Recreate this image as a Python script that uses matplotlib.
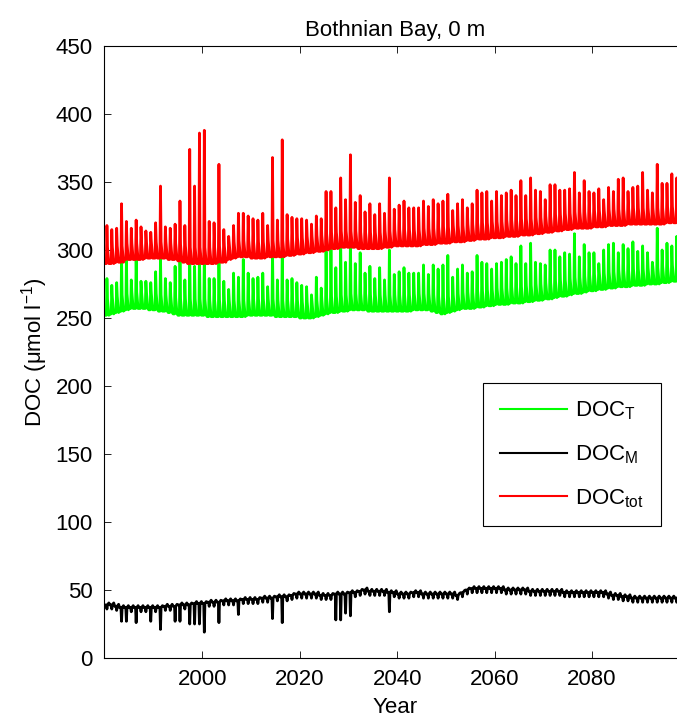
import matplotlib
matplotlib.use('Agg')
import matplotlib.pyplot as plt
import numpy as np

plt.rcParams['font.family'] = ['Liberation Sans', 'DejaVu Sans']
plt.rcParams['mathtext.fontset'] = 'custom'
plt.rcParams['mathtext.rm'] = 'Liberation Sans'
plt.rcParams['mathtext.it'] = 'Liberation Sans:italic'
plt.rcParams['mathtext.bf'] = 'Liberation Sans:bold'

# ---------------- data ----------------
years = np.arange(1980, 2098)

red_trough = [
    290, 290, 291, 291, 293, 293, 293, 293, 294, 294,
    294, 294, 294, 293, 293, 292, 291, 290, 290, 290,
    290, 290, 290, 291, 291, 293, 294, 295, 295, 295,
    294, 294, 294, 295, 295, 295, 295, 296, 296, 297,
    297, 298, 298, 299, 299, 300, 301, 301, 302, 302,
    302, 302, 301, 301, 301, 301, 301, 302, 302, 303,
    303, 303, 303, 303, 303, 304, 304, 304, 305, 305,
    305, 306, 306, 306, 307, 307, 308, 308, 308, 309,
    309, 309, 310, 310, 310, 311, 311, 311, 312, 312,
    313, 313, 314, 314, 315, 315, 316, 316, 316, 316,
    317, 317, 317, 318, 318, 318, 318, 319, 319, 319,
    319, 319, 319, 319, 319, 320, 320, 320]

red_peak = [
    318, 315, 316, 334, 321, 316, 322, 317, 314, 313,
    320, 347, 317, 316, 319, 336, 318, 374, 347, 386,
    388, 321, 320, 363, 315, 310, 318, 327, 327, 325,
    323, 322, 327, 318, 368, 322, 381, 326, 324, 323,
    323, 322, 319, 325, 323, 343, 343, 331, 353, 337,
    370, 335, 340, 328, 334, 326, 334, 327, 353, 330,
    333, 336, 331, 331, 331, 336, 332, 337, 334, 336,
    341, 329, 334, 337, 331, 334, 344, 342, 343, 336,
    343, 340, 342, 344, 340, 351, 340, 353, 344, 343,
    337, 348, 348, 344, 344, 345, 357, 342, 351, 343,
    342, 345, 337, 346, 343, 352, 353, 343, 346, 347,
    357, 344, 342, 363, 349, 349, 356, 353]

green_trough = [
    252, 253, 254, 255, 256, 257, 257, 257, 257, 256,
    256, 255, 255, 254, 253, 252, 252, 252, 252, 252,
    252, 251, 251, 251, 251, 251, 251, 251, 251, 252,
    252, 252, 252, 252, 252, 251, 251, 251, 251, 251,
    250, 250, 250, 251, 252, 253, 254, 254, 255, 255,
    256, 256, 256, 256, 255, 255, 255, 255, 255, 255,
    255, 255, 255, 256, 256, 256, 256, 255, 254, 253,
    254, 255, 256, 257, 257, 257, 258, 258, 259, 259,
    260, 260, 260, 261, 261, 261, 262, 262, 263, 263,
    264, 264, 265, 266, 266, 267, 268, 268, 269, 270,
    270, 271, 271, 272, 272, 273, 273, 273, 274, 274,
    274, 275, 275, 275, 276, 276, 277, 277]

green_peak = [
    279, 274, 276, 295, 293, 278, 295, 277, 277, 276,
    284, 295, 279, 276, 288, 295, 278, 295, 288, 298,
    298, 279, 279, 294, 277, 271, 283, 280, 293, 283,
    279, 280, 283, 273, 300, 278, 302, 278, 279, 276,
    274, 273, 267, 280, 272, 299, 300, 287, 304, 291,
    309, 290, 298, 283, 288, 279, 287, 278, 300, 282,
    284, 287, 283, 283, 283, 289, 282, 289, 286, 289,
    296, 280, 286, 289, 283, 284, 296, 291, 290, 286,
    290, 291, 293, 295, 290, 303, 290, 305, 291, 290,
    289, 300, 300, 295, 298, 297, 312, 295, 304, 298,
    298, 290, 300, 304, 305, 298, 304, 301, 306, 299,
    303, 298, 291, 316, 300, 305, 303, 310]

black_base = [
    39, 39, 38, 37, 37, 37, 37, 37, 37, 37,
    37, 37, 38, 38, 38, 39, 39, 39, 40, 40,
    40, 41, 41, 41, 42, 42, 42, 42, 43, 43,
    43, 43, 44, 44, 44, 45, 45, 45, 46, 47,
    47, 47, 47, 47, 46, 46, 46, 47, 47, 47,
    48, 48, 49, 50, 49, 49, 49, 49, 48, 48,
    47, 47, 47, 48, 48, 47, 47, 47, 47, 47,
    47, 47, 46, 48, 50, 51, 51, 51, 51, 51,
    51, 51, 50, 50, 50, 50, 50, 49, 49, 49,
    49, 49, 49, 49, 48, 48, 48, 48, 48, 48,
    48, 48, 48, 47, 46, 46, 45, 45, 44, 44,
    44, 44, 44, 44, 44, 44, 44, 44]

black_dip_years = [1983, 1984, 1986, 1989, 1991, 1994, 1995, 1997, 1998, 1999,
                   2000, 2003, 2007, 2014, 2016, 2027, 2028, 2029, 2030, 2038]
black_dip_values = [27, 27, 26, 27, 21, 27, 27, 25, 25, 25,
                    19, 26, 32, 29, 26, 28, 28, 33, 31, 34]
black_small_dip = 3      # usual spring dip of DOC_M
black_autumn_rise = 1.5  # usual autumn rise of DOC_M
shoulder = 12            # post-flood level above the winter trough (DOC_T, DOC_tot)

labels = ['DOC$_{\\mathrm{T}}$', 'DOC$_{\\mathrm{M}}$', 'DOC$_{\\mathrm{tot}}$']
title = 'Bothnian Bay, 0 m'
xlabel = 'Year'
ylabel = 'DOC (\u03bcmol l$^{-1}$)'
yticks = list(range(0, 451, 50))
xticks = [2000, 2020, 2040, 2060, 2080]

# ---------------- build annual cycles ----------------
offs = [0.0, 0.28, 0.40, 0.52, 0.80]


def cycle(trough, peak, extra):
    xs, ys = [], []
    for i, y in enumerate(years):
        t, p = trough[i], peak[i]
        xs += [y + o for o in offs]
        ys += [t, t, p, t + extra, t]
    return np.array(xs), np.array(ys)


xg, yg = cycle(green_trough, green_peak, shoulder)
xr, yr = cycle(red_trough, red_peak, shoulder)

dip_map = dict(zip(black_dip_years, black_dip_values))
xb, yb = [], []
for i, y in enumerate(years):
    b = black_base[i]
    d = dip_map.get(int(y), b - black_small_dip)
    xb += [y + o for o in offs]
    yb += [b, b, d, b, b + black_autumn_rise]
xb, yb = np.array(xb), np.array(yb)

# ---------------- figure ----------------
W, H = 677, 721
fig = plt.figure(figsize=(W / 100, H / 100), dpi=100)
x0, x1 = 1979.8, 2099.5
ppy = 4.87
ax = fig.add_axes([104 / W, (H - 658) / H, (x1 - x0) * ppy / W, 612 / H])

lw = 2.0
lg, = ax.plot(xg, yg, color=(0, 1, 0), lw=lw, label=labels[0])
lb, = ax.plot(xb, yb, color='black', lw=lw, label=labels[1])
lr, = ax.plot(xr, yr, color=(1, 0, 0), lw=lw, label=labels[2])

ax.set_xlim(x0, x1)
ax.set_ylim(0, 450)
ax.set_xticks(xticks)
ax.set_yticks(yticks)
ax.tick_params(direction='in', top=True, right=True, length=5, width=0.6,
               labelsize=16, pad=8)
for s in ax.spines.values():
    s.set_linewidth(0.8)

ax.set_title(title, fontsize=16, pad=7)
ax.set_xlabel(xlabel, fontsize=16, labelpad=5)
ax.set_ylabel(ylabel, fontsize=16, labelpad=4)

leg = ax.legend(handles=[lg, lb, lr], loc='upper right',
                bbox_to_anchor=(661 / W, 1 - 383 / H), bbox_transform=fig.transFigure,
                borderaxespad=0, fancybox=False, edgecolor='black', framealpha=1,
                fontsize=16, handlelength=3.0, handletextpad=0.4,
                labelspacing=0.95, borderpad=0.75)
leg.get_frame().set_linewidth(0.8)
for h in leg.get_lines():
    h.set_linewidth(1.5)

fig.savefig('out.png', dpi=100)
